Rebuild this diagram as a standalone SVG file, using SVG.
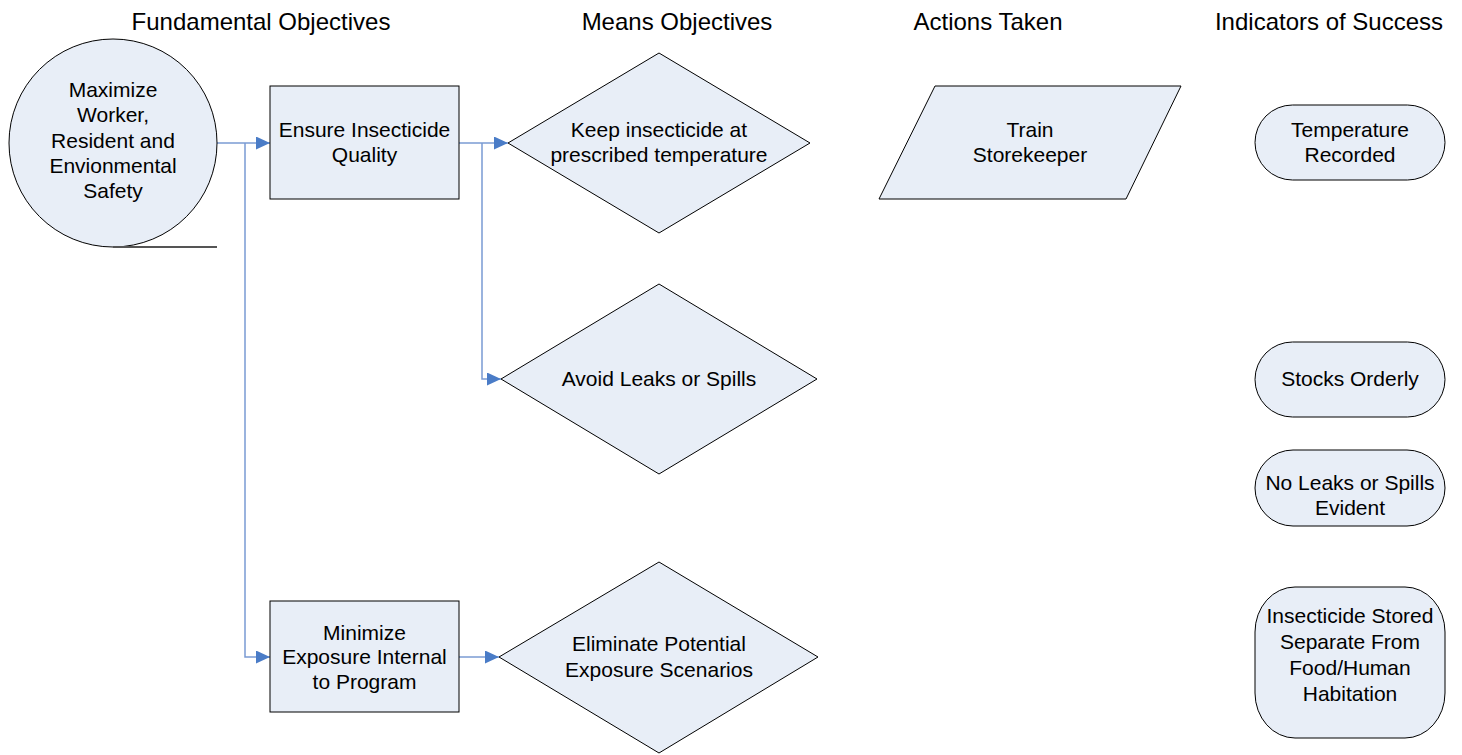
<svg xmlns="http://www.w3.org/2000/svg" width="1462" height="755" viewBox="0 0 1462 755">
<defs>
<style>
.node{fill:#E8EEF7;stroke:#000;stroke-width:1}
.t{font-family:"Liberation Sans",Arial,sans-serif;font-size:21px;fill:#000;text-anchor:middle}
.h{font-family:"Liberation Sans",Arial,sans-serif;font-size:24px;fill:#000;text-anchor:middle}
.c{fill:none;stroke:#7A9BD3;stroke-width:1.5}
</style>
<marker id="arr" markerUnits="userSpaceOnUse" markerWidth="14" markerHeight="14" refX="14" refY="6.5" orient="auto">
<path d="M0,0 L14,6.5 L0,13 z" fill="#4A7CC7"/>
</marker>
</defs>
<rect width="1462" height="755" fill="#fff"/>
<g id="headings">
<text class="h" x="261" y="30">Fundamental Objectives</text>
<text class="h" x="677" y="30">Means Objectives</text>
<text class="h" x="988" y="30">Actions Taken</text>
<text class="h" x="1329" y="30">Indicators of Success</text>
</g>
<g id="connectors">
<path class="c" d="M217,143 H270" marker-end="url(#arr)"/>
<path class="c" d="M245,143 V657 H270" marker-end="url(#arr)"/>
<path class="c" d="M459,143 H508" marker-end="url(#arr)"/>
<path class="c" d="M482,143 V379 H501" marker-end="url(#arr)"/>
<path class="c" d="M459,657 H499" marker-end="url(#arr)"/>
</g>
<g id="n-maximize">
<circle class="node" cx="113" cy="143" r="104"/>
<line x1="113" y1="247" x2="217" y2="247" stroke="#555" stroke-width="2"/>
<text class="t" x="113" y="97">Maximize</text>
<text class="t" x="113" y="122">Worker,</text>
<text class="t" x="113" y="148">Resident and</text>
<text class="t" x="113" y="173">Envionmental</text>
<text class="t" x="113" y="198">Safety</text>
</g>
<g id="n-ensure">
<rect class="node" x="270" y="86" width="189" height="113"/>
<text class="t" x="364.5" y="137">Ensure Insecticide</text>
<text class="t" x="364.5" y="162">Quality</text>
</g>
<g id="n-minimize">
<rect class="node" x="270" y="601" width="189" height="111"/>
<text class="t" x="364.5" y="640">Minimize</text>
<text class="t" x="364.5" y="664">Exposure Internal</text>
<text class="t" x="364.5" y="689">to Program</text>
</g>
<g id="n-keep">
<polygon class="node" points="508,143 659,53 810,143 659,233"/>
<text class="t" x="659" y="137">Keep insecticide at</text>
<text class="t" x="659" y="162">prescribed temperature</text>
</g>
<g id="n-avoid">
<polygon class="node" points="501,379 659,284 817,379 659,474"/>
<text class="t" x="659" y="386">Avoid Leaks or Spills</text>
</g>
<g id="n-eliminate">
<polygon class="node" points="499,657 659,562 818,657 659,753"/>
<text class="t" x="659" y="651">Eliminate Potential</text>
<text class="t" x="659" y="677">Exposure Scenarios</text>
</g>
<g id="n-train">
<polygon class="node" points="935,86 1181,86 1126,199 879,199"/>
<text class="t" x="1030" y="137">Train</text>
<text class="t" x="1030" y="162">Storekeeper</text>
</g>
<g id="n-temp">
<rect class="node" x="1255" y="105" width="190" height="75" rx="37.5" ry="37.5"/>
<text class="t" x="1350" y="137">Temperature</text>
<text class="t" x="1350" y="162">Recorded</text>
</g>
<g id="n-stocks">
<rect class="node" x="1255" y="342" width="190" height="75" rx="37.5" ry="37.5"/>
<text class="t" x="1350" y="386">Stocks Orderly</text>
</g>
<g id="n-noleaks">
<rect class="node" x="1255" y="450" width="190" height="76" rx="38" ry="38"/>
<text class="t" x="1350" y="490">No Leaks or Spills</text>
<text class="t" x="1350" y="515">Evident</text>
</g>
<g id="n-stored">
<rect class="node" x="1255" y="587" width="190" height="151" rx="40" ry="45"/>
<text class="t" x="1350" y="623">Insecticide Stored</text>
<text class="t" x="1350" y="649">Separate From</text>
<text class="t" x="1350" y="675">Food/Human</text>
<text class="t" x="1350" y="701">Habitation</text>
</g>
</svg>
